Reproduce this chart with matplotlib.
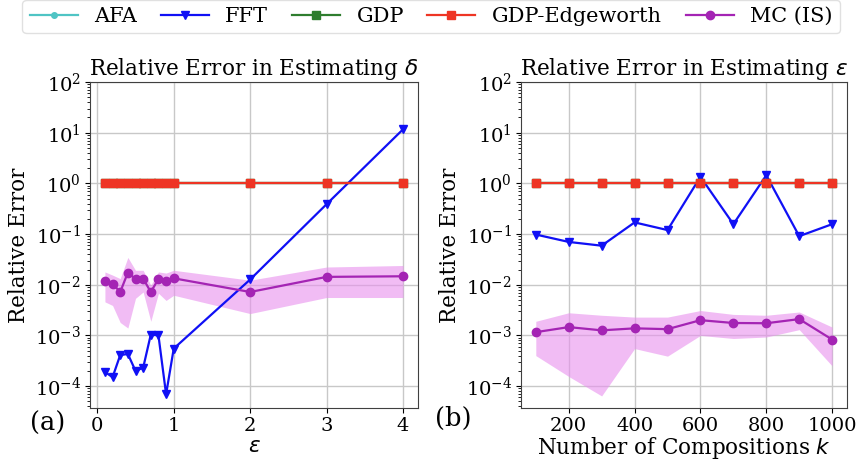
import matplotlib
matplotlib.use("Agg")
import matplotlib.pyplot as plt
from matplotlib.ticker import LogLocator

plt.rcParams['font.family'] = ['DejaVu Serif']
plt.rcParams['mathtext.fontset'] = 'custom'
plt.rcParams['mathtext.rm'] = 'DejaVu Serif'
plt.rcParams['mathtext.it'] = 'DejaVu Sans:italic'

# (a) error in delta vs epsilon
eps = [0.1, 0.2, 0.3, 0.4, 0.5, 0.6, 0.7, 0.8, 0.9, 1.0, 2, 3, 4]
afa_a = [1.0] * 13
fft_a = [1.9e-4, 1.5e-4, 4.1e-4, 4.3e-4, 2.0e-4, 2.3e-4, 1.04e-3, 1.0e-3, 6.9e-5, 5.5e-4, 0.0127, 0.39, 11.7]
gdp_a = [1.0] * 13
edge_a = [1.0] * 13
mc_a = [0.0117, 0.0104, 0.0072, 0.0174, 0.013, 0.0132, 0.0072, 0.013, 0.0117, 0.0134, 0.0072, 0.0143, 0.0147]
mc_a_hi = [0.0179, 0.0155, 0.0132, 0.0346, 0.0193, 0.0193, 0.0098, 0.0179, 0.017, 0.0193, 0.0123, 0.0224, 0.024]
mc_a_lo = [0.0046, 0.0039, 0.0018, 0.0014, 0.0054, 0.0072, 0.0019, 0.0068, 0.0049, 0.0062, 0.0027, 0.0056, 0.0056]

# (b) error in epsilon vs number of compositions
k = [100, 200, 300, 400, 500, 600, 700, 800, 900, 1000]
afa_b = [1.0] * 10
fft_b = [0.098, 0.07, 0.059, 0.17, 0.12, 1.35, 0.157, 1.45, 0.091, 0.157]
gdp_b = [1.04] * 10
edge_b = [1.0] * 10
mc_b = [1.16e-3, 1.46e-3, 1.26e-3, 1.38e-3, 1.33e-3, 2.0e-3, 1.76e-3, 1.74e-3, 2.1e-3, 8.3e-4]
mc_b_hi = [1.9e-3, 2.8e-3, 2.5e-3, 2.3e-3, 2.3e-3, 3.1e-3, 2.6e-3, 2.5e-3, 2.9e-3, 1.46e-3]
mc_b_lo = [4.0e-4, 1.55e-4, 6.4e-5, 5.5e-4, 3.9e-4, 1.0e-3, 8.7e-4, 9.3e-4, 1.3e-3, 2.5e-4]

names = ['AFA', 'FFT', 'GDP', 'GDP-Edgeworth', 'MC (IS)']
colors = ['#4fc4c4', '#1010f5', '#2e7d2e', '#ee3524', '#a424b4']
markers = ['.', 'v', 's', 's', 'o']

fig = plt.figure(figsize=(8.59, 4.61), dpi=100)
ax1 = fig.add_axes([0.1048, 0.115, 0.3818, 0.707])
ax2 = fig.add_axes([0.6065, 0.115, 0.3795, 0.707])

panels = [
    (ax1, eps, [afa_a, fft_a, gdp_a, edge_a, mc_a], mc_a_lo, mc_a_hi,
     r'Relative Error in Estimating $\delta$', r'$\varepsilon$'),
    (ax2, k, [afa_b, fft_b, gdp_b, edge_b, mc_b], mc_b_lo, mc_b_hi,
     r'Relative Error in Estimating $\varepsilon$', r'Number of Compositions $k$'),
]

handles = []
for ax, x, series, lo, hi, title, xlabel in panels:
    ax.fill_between(x, lo, hi, color='#e890ee', alpha=0.6, lw=0)
    hs = []
    for y, name, c, m in zip(series, names, colors, markers):
        ms = 6 if m != '.' else 8
        h, = ax.plot(x, y, color=c, marker=m, ms=ms, lw=1.6, label=name)
        hs.append(h)
    handles = hs
    ax.set_yscale('log')
    ax.set_ylim(3.7e-5, 100)
    ax.yaxis.set_major_locator(LogLocator(base=10, numticks=12))
    ax.yaxis.set_minor_locator(LogLocator(base=10, subs=range(2, 10), numticks=12))
    ax.grid(True, color='#c8c8c8', lw=1)
    ax.set_axisbelow(True)
    ax.set_title(title, fontsize=15.5, pad=3)
    ax.set_xlabel(xlabel, fontsize=15.5, labelpad=0)
    ax.set_ylabel('Relative Error', fontsize=15.5, labelpad=3)
    ax.tick_params(labelsize=14, pad=3)
    for sp in ax.spines.values():
        sp.set_color('#404040')

ax1.set_xticks([0, 1, 2, 3, 4])
ax2.set_xticks([200, 400, 600, 800, 1000])

fig.text(0.055, 0.082, '(a)', fontsize=18.5, ha='center', va='center')
fig.text(0.528, 0.093, '(b)', fontsize=18.5, ha='center', va='center')

fig.legend(handles, names, loc='lower left', bbox_to_anchor=(0.014, 0.905, 0.976, 0.09),
           ncol=5, fontsize=15, handlelength=2.3, mode='expand',
           borderpad=0.35, framealpha=0.6, bbox_transform=fig.transFigure)

fig.savefig('out.png', dpi=100)
